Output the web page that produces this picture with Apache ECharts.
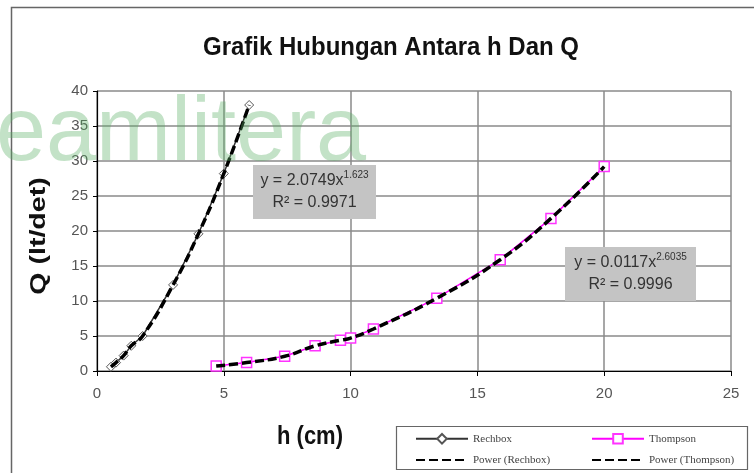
<!DOCTYPE html>
<html>
<head>
<meta charset="utf-8">
<script src="https://cdn.jsdelivr.net/npm/echarts@6/dist/echarts.min.js"></script>
<style>
    html, body { margin: 0; padding: 0; background: #fff; }
    #chart { width: 754px; height: 473px; }
</style>
</head>
<body>
<div id="chart"></div>
<script>
// data
const rechboxH = [0.55, 0.75, 1.05, 1.35, 1.8, 3.0, 4.0, 5.0, 6.0]
const rechboxQ = [0.6, 1.2, 2.2, 3.6, 5.0, 12.3, 19.6, 28.2, 38.0]
const thompsonH = [4.7, 5.9, 7.4, 8.6, 9.6, 10.0, 10.9, 13.4, 15.9, 17.9, 20.0]
const thompsonQ = [0.7, 1.2, 2.1, 3.6, 4.4, 4.7, 6.0, 10.4, 15.9, 21.8, 29.2]
const seriesNames = ['Rechbox', 'Thompson', 'Power (Rechbox)', 'Power (Thompson)']
const eqRechbox = ['y = 2.0749x', '1.623', 'R² = 0.9971']
const eqThompson = ['y = 0.0117x', '2.6035', 'R² = 0.9996']

const pairs = (xs, ys) => xs.map((x, i) => [x, ys[i]])

const gridLine = { show: true, lineStyle: { color: '#8a8a8a', width: 1.5 } }
const labelFont = { color: '#555', fontSize: 15, fontFamily: 'Liberation Sans, Arial' }
const legendFont = { fontFamily: 'Liberation Serif', fontSize: 11, color: '#444' }
const noMarker = { color: 'transparent', borderColor: 'transparent' }

function eqBox(x, y, w, h, eq){
    return {
        type: 'group', left: x, top: y, z: 100,
        children: [
            { type: 'rect', z: 100, shape: { x: 0, y: 0, width: w, height: h }, style: { fill: '#c4c4c4' } },
            {
                type: 'text', z: 101, x: w / 2, y: h / 2,
                style: {
                    text: `{a|${eq[0]}}{s|${eq[1]}}\n{a|${eq[2]}}`,
                    align: 'center', verticalAlign: 'middle',
                    rich: {
                        a: { fontSize: 16, lineHeight: 22, fill: '#333', fontFamily: 'Liberation Sans, Arial' },
                        s: { fontSize: 10, lineHeight: 22, fill: '#333', verticalAlign: 'top', fontFamily: 'Liberation Sans, Arial' }
                    }
                }
            }
        ]
    }
}

const chart = echarts.init(document.getElementById('chart'))
const option = {
    backgroundColor: '#fff',
    animation: false,
    grid: { left: 97, right: 23, top: 91, bottom: 102 },
    xAxis: {
        type: 'value', min: 0, max: 25, interval: 5,
        axisLine: { lineStyle: { color: '#000', width: 1.2 } },
        axisTick: { show: true, length: 5, lineStyle: { color: '#000' } },
        axisLabel: Object.assign({ margin: 15 }, labelFont),
        splitLine: gridLine
    },
    yAxis: {
        type: 'value', min: 0, max: 40, interval: 5,
        axisLine: { show: true, lineStyle: { color: '#000', width: 1.2 } },
        axisTick: { show: true, length: 4, lineStyle: { color: '#000' } },
        axisLabel: Object.assign({ margin: 9 }, labelFont),
        splitLine: gridLine
    },
    legend: [
        {
            left: 410, top: 428, orient: 'vertical', itemWidth: 52, itemHeight: 12, itemGap: 10,
            data: [seriesNames[0], { name: seriesNames[2], itemStyle: noMarker }],
            textStyle: legendFont
        },
        {
            left: 586, top: 428, orient: 'vertical', itemWidth: 52, itemHeight: 12, itemGap: 10,
            data: [seriesNames[1], { name: seriesNames[3], itemStyle: noMarker }],
            textStyle: legendFont
        }
    ],
    graphic: [
        { type: 'rect', left: 9, top: 5, z: -10, shape: { width: 800, height: 500 }, style: { fill: 'none', stroke: '#666', lineWidth: 1.5 } },
        { type: 'rect', left: 394, top: 424, shape: { width: 351, height: 43 }, style: { fill: 'none', stroke: '#666', lineWidth: 1.2 } },
        {
            type: 'text', x: 391, y: 48, style: {
                text: 'Grafik Hubungan Antara h Dan Q', fill: '#111',
                font: 'bold 24px "Liberation Sans", Arial', align: 'center', verticalAlign: 'middle'
            }, scaleY: 1.1, scaleX: 1.0
        },
        {
            type: 'text', left: 277, top: 424, style: {
                text: 'h (cm)', fill: '#111', font: 'bold 22px "Liberation Sans", Arial'
            }, scaleY: 1.15
        },
        {
            type: 'text', x: 39, y: 236, rotation: Math.PI / 2, style: {
                text: 'Q (lt/det)', fill: '#111', font: 'bold 22px "Liberation Sans", Arial',
                align: 'center', verticalAlign: 'middle'
            }, scaleX: 1.3
        },
        eqBox(253, 165, 123, 54, eqRechbox),
        eqBox(565, 247, 131, 54, eqThompson),
        {
            type: 'text', left: -4, top: 90, z: 120, silent: true, style: {
                text: 'eamlitera', fill: 'rgba(90,175,100,0.36)',
                font: '90px "Liberation Sans", Arial'
            }
        }
    ],
    series: [
        {
            name: seriesNames[0], type: 'line', data: pairs(rechboxH, rechboxQ),
            color: '#333', symbol: 'diamond', symbolSize: 9, z: 3,
            lineStyle: { color: '#333', width: 1.5 },
            itemStyle: { color: '#fff', borderColor: '#555', borderWidth: 1 }
        },
        {
            name: seriesNames[1], type: 'line', data: pairs(thompsonH, thompsonQ),
            color: '#ff00ff', symbol: 'rect', symbolSize: 10, z: 3,
            lineStyle: { color: '#ff00ff', width: 1.5 },
            itemStyle: { color: '#fff', borderColor: '#ff33ff', borderWidth: 1.5 }
        },
        {
            name: seriesNames[2], type: 'line', data: pairs(rechboxH, rechboxQ),
            smooth: 0.5, symbol: 'none', color: '#000', z: 4,
            lineStyle: { color: '#000', width: 3.5, type: [9, 4] }
        },
        {
            name: seriesNames[3], type: 'line', data: pairs(thompsonH, thompsonQ),
            smooth: 0.5, symbol: 'none', color: '#000', z: 4,
            lineStyle: { color: '#000', width: 3.5, type: [9, 4] }
        }
    ]
}
chart.setOption(option)
</script>
</body>
</html>
